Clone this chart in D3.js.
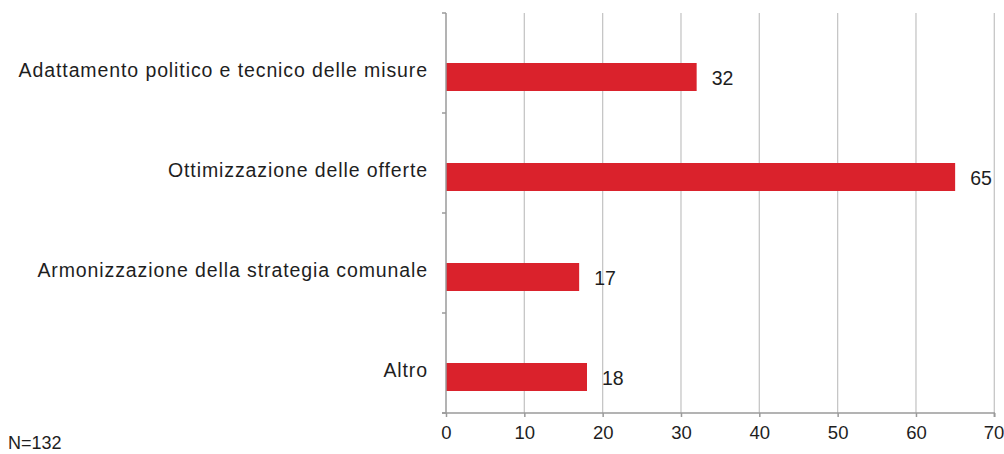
<!DOCTYPE html>
<html><head><meta charset="utf-8">
<script src="https://cdn.jsdelivr.net/npm/d3@7"></script>
<style>
body{margin:0;background:#fff;}
svg{display:block;font-family:"Liberation Sans",Arial,sans-serif;}
</style></head>
<body>
<svg id="chart" width="1004" height="454"></svg>
<script>
const categories = ["Adattamento politico e tecnico delle misure","Ottimizzazione delle offerte","Armonizzazione della strategia comunale","Altro"];
const values = [32, 65, 17, 18];
const xTicks = [0,10,20,30,40,50,60,70];
const note = "N=132";

const svg = d3.select("#chart");
const x = d3.scaleLinear().domain([0,70]).range([446,994.3]);
const y = d3.scaleBand().domain(categories).range([13,413]);
const barH = 28;
const axisColor = "#9a9a9a", gridColor = "#c6c6c6", barColor = "#da222c", textColor = "#1e1e1e";
const fs = 19.5;

// gridlines
svg.append("g").selectAll("line").data(xTicks.slice(1)).join("line")
  .attr("x1",d=>x(d)).attr("x2",d=>x(d)).attr("y1",13).attr("y2",413)
  .attr("stroke",gridColor).attr("stroke-width",1.3);

// bars
svg.append("g").selectAll("rect").data(values).join("rect")
  .attr("x",x(0)).attr("y",(d,i)=>y(categories[i])+y.bandwidth()/2)
  .attr("width",d=>x(d)-x(0)).attr("height",barH).attr("fill",barColor);

// x axis
const xAxis = svg.append("g").attr("transform","translate(0,413)")
  .call(d3.axisBottom(x).tickValues(xTicks).tickSize(4).tickPadding(9).tickFormat(d3.format("d")));
xAxis.select(".domain").attr("stroke",axisColor).attr("stroke-width",1.5).attr("d","M442,0H994.3V4");
xAxis.selectAll(".tick line").attr("stroke",axisColor).attr("stroke-width",1.5);
xAxis.selectAll(".tick text").attr("fill",textColor).attr("font-size",18.5).attr("font-family","Liberation Sans, Arial, sans-serif");
xAxis.selectAll(".tick text").filter(d=>d===70).attr("text-anchor","end").attr("x",9.5);

// y axis line with category boundary ticks
const yAxisG = svg.append("g");
yAxisG.append("line").attr("x1",446).attr("x2",446).attr("y1",13).attr("y2",413).attr("stroke",axisColor).attr("stroke-width",1.5);
const bounds = categories.map(c=>y(c)).concat([y.range()[1]]);
yAxisG.selectAll("line.tk").data(bounds).join("line").attr("class","tk")
  .attr("x1",442).attr("x2",446).attr("y1",d=>d).attr("y2",d=>d).attr("stroke",axisColor).attr("stroke-width",1.5);

// category labels
svg.append("g").selectAll("text").data(categories).join("text")
  .attr("x",428).attr("y",d=>y(d)+y.bandwidth()/2+7).attr("dy","0.35em")
  .attr("text-anchor","end").attr("font-size",fs).attr("letter-spacing","0.9px").attr("fill",textColor).text(d=>d);

// value labels
svg.append("g").selectAll("text").data(values).join("text")
  .attr("x",d=>x(d)+15).attr("y",(d,i)=>y(categories[i])+y.bandwidth()/2+barH/2+1).attr("dy","0.35em")
  .attr("font-size",fs).attr("fill",textColor).text(d=>d);

svg.append("text").attr("x",8).attr("y",449).attr("font-size",18).attr("fill",textColor).text(note);
</script>
</body></html>
